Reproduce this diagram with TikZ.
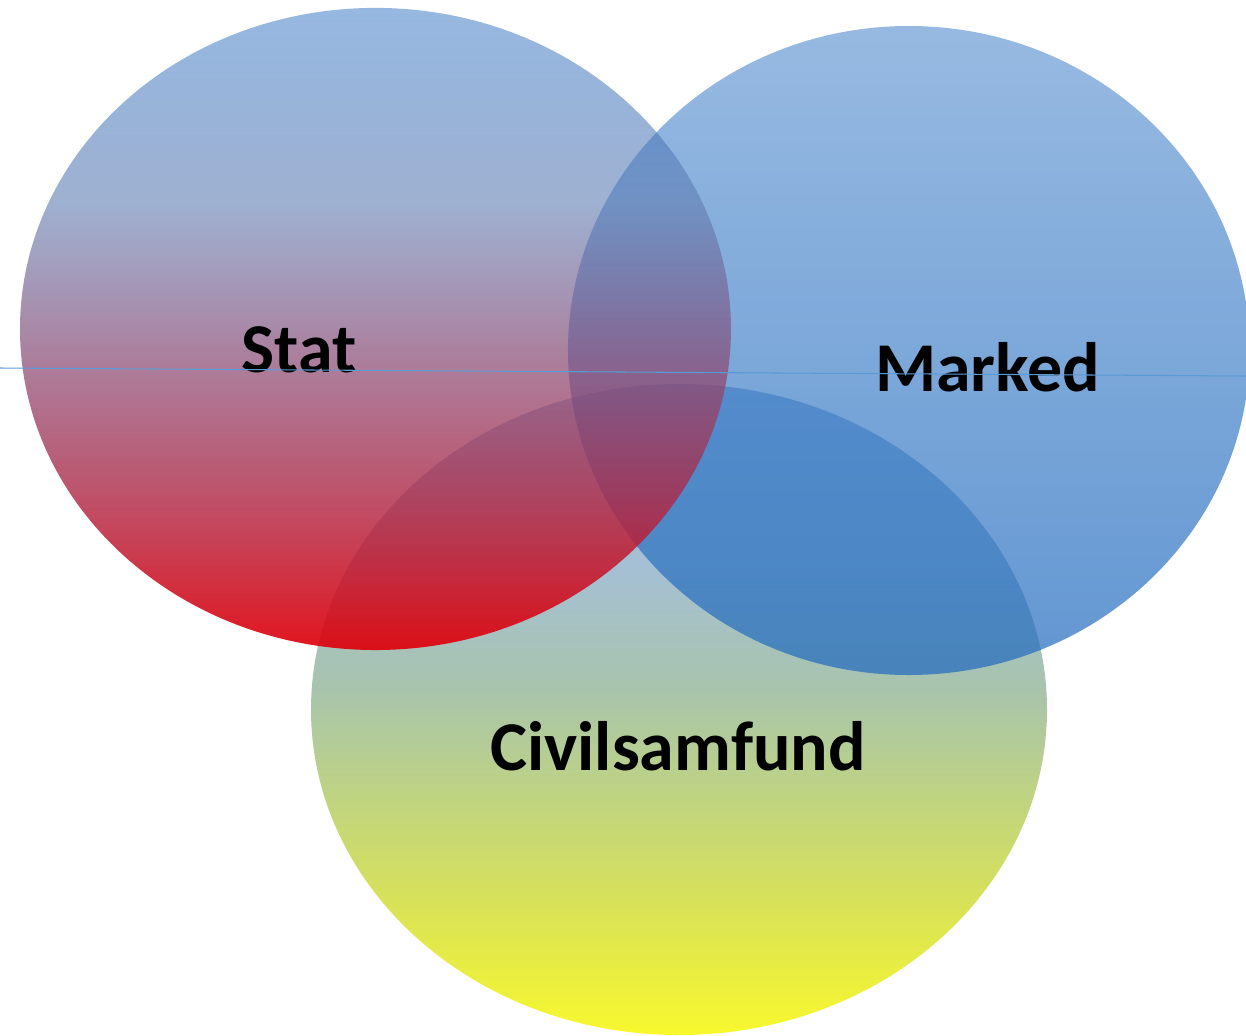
\documentclass[tikz,border=0pt]{standalone}
\usepackage{fontspec}
\setmainfont{Carlito}
\usepackage{tikz}
\usetikzlibrary{positioning,fadings}

% farver
\definecolor{StatBlue}{RGB}{38,107,191}
\definecolor{StatLilac}{RGB}{97,127,180}
\definecolor{StatPlum}{RGB}{136,80,122}
\definecolor{StatRose}{RGB}{177,40,69}
\definecolor{StatRed}{RGB}{224,0,10}
\definecolor{MarkedBlue}{RGB}{32,106,191}
\definecolor{CivilSky}{RGB}{160,190,225}
\definecolor{CivilMist}{RGB}{165,192,212}
\definecolor{CivilSage}{RGB}{168,196,172}
\definecolor{CivilGreen}{RGB}{192,212,128}
\definecolor{CivilLime}{RGB}{215,225,90}
\definecolor{CivilYellow}{RGB}{248,248,45}
\definecolor{LineBlue}{RGB}{91,155,213}

\pgfdeclareverticalshading{statshade}{100bp}{color(0bp)=(StatRed); color(25bp)=(StatRed); color(36.5bp)=(StatRose); color(48.5bp)=(StatPlum); color(60bp)=(StatLilac); color(75bp)=(StatBlue); color(100bp)=(StatBlue)}
\pgfdeclareverticalshading{civilshade}{100bp}{color(0bp)=(CivilYellow); color(25bp)=(CivilYellow); color(35.5bp)=(CivilLime); color(43bp)=(CivilGreen); color(51.5bp)=(CivilSage); color(61bp)=(CivilMist); color(75bp)=(CivilSky); color(100bp)=(CivilSky)}

\begin{tikzfadingfrompicture}[name=statfade]
    \shade[top color=transparent!55, bottom color=transparent!5] (0,0) rectangle (2,2);
\end{tikzfadingfrompicture}
\begin{tikzfadingfrompicture}[name=markedfade]
    \shade[top color=transparent!55, bottom color=transparent!28] (0,0) rectangle (2,2);
\end{tikzfadingfrompicture}

\tikzset{
    venntext/.style={font=\bfseries\fontsize{39.8}{48}\selectfont, text=black, anchor=base, inner sep=0pt},
    axisline/.style={draw=LineBlue, line width=0.6pt}
}

\begin{document}
\begin{tikzpicture}[
        x=0.02cm, y=-0.02cm,
        % --- STYLES ---
        % Stat: blå til rød
        statfill/.style={
            shading=statshade,
            path fading=statfade
        },
        % Marked: blå
        markedfill/.style={
            fill=MarkedBlue,
            path fading=markedfade
        },
        % Civilsamfund: grøn til gul
        civilfill/.style={
            shading=civilshade
        }
    ]

        \useasboundingbox (0,0) rectangle (1246,1035);

        % --- CENTRE ---
        \coordinate (statc) at (375.5,329);
        \coordinate (markedc) at (909,350.5);
        \coordinate (civilc) at (679,709.5);

        % --- ELLIPSER ---
        \shade[civilfill] (civilc) ellipse [x radius=368, y radius=325.5];
        \fill[markedfill] (markedc) ellipse [x radius=341, y radius=324.5];
        \shade[statfill] (statc) ellipse [x radius=355.5, y radius=321];

        % --- TEKST ---
        \node[venntext] (stattext) at (299,372) {Stat};
        \node[venntext] (markedtext) at (987.5,391) {Marked};
        \node[venntext] (civiltext) at (678,770) {Civilsamfund};

        % --- LINJE ---
        \coordinate (lineW) at (0,368);
        \coordinate (lineE) at (1246,376);
        \draw[axisline] (lineW) -- (lineE);

    \end{tikzpicture}
\end{document}
